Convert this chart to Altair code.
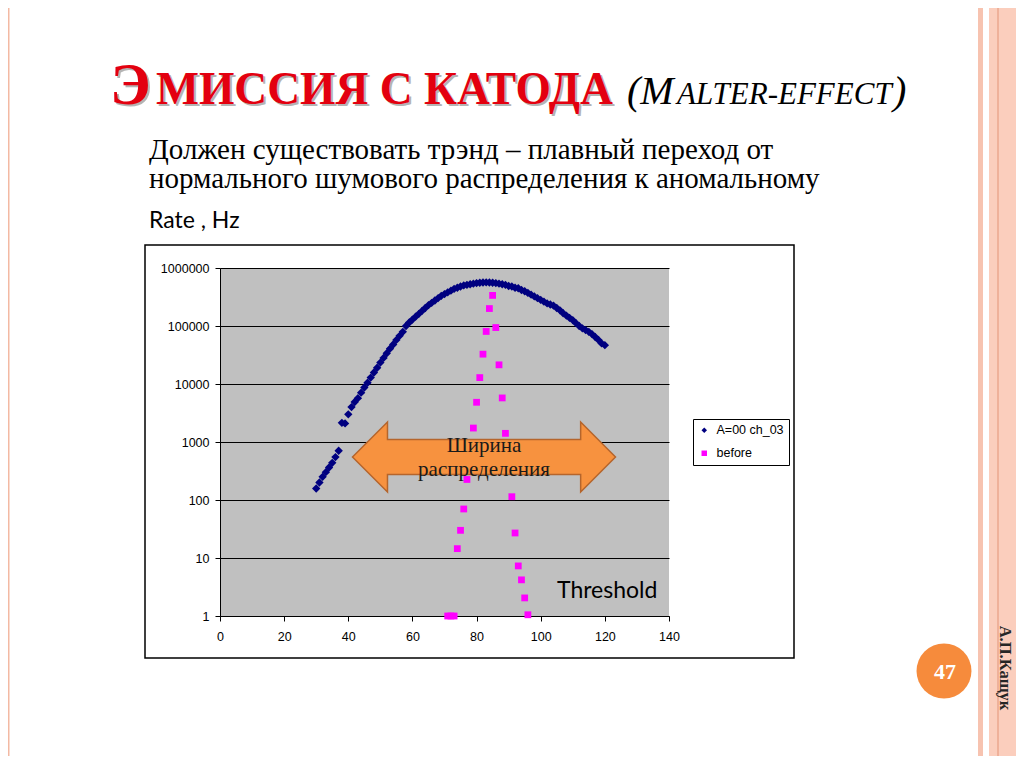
import altair as alt
import pandas as pd

# ---------------- data ----------------
SERIES_A = "A=00 ch_03"
SERIES_B = "before"

a_x = [30, 31, 32, 33, 34, 35, 36, 37, 38, 39,
       40, 41, 42, 43, 44, 45, 46, 47, 48, 49,
       50, 51, 52, 53, 54, 55, 56, 57, 58, 59,
       60, 61, 62, 63, 64, 65, 66, 67, 68, 69,
       70, 71, 72, 73, 74, 75, 76, 77, 78, 79,
       80, 81, 82, 83, 84, 85, 86, 87, 88, 89,
       90, 91, 92, 93, 94, 95, 96, 97, 98, 99,
       100, 101, 102, 103, 104, 105, 106, 107, 108, 109,
       110, 111, 112, 113, 114, 115, 116, 117, 118, 119,
       120]
a_rate = [158, 200, 251, 302, 363, 437, 550, 708, 2140, 2090,
          3000, 4000, 4900, 5700, 7100, 8700, 10500, 12900, 15800, 19100,
          23400, 28200, 33900, 40700, 47900, 57500, 67600, 79400, 100000, 115000,
          129000, 145000, 162000, 182000, 204000, 229000, 251000, 275000, 302000, 331000,
          355000, 380000, 407000, 437000, 457000, 479000, 501000, 513000, 525000, 537000,
          550000, 556000, 562000, 565000, 562000, 556000, 550000, 537000, 525000, 513000,
          490000, 479000, 457000, 447000, 417000, 398000, 372000, 347000, 324000, 302000,
          282000, 263000, 245000, 235000, 224000, 204000, 186000, 166000, 151000, 138000,
          126000, 112000, 100000, 91200, 85100, 79400, 72400, 64600, 57500, 50100,
          46800]

b_x = [71, 72, 73, 74, 75, 76, 77, 79, 80, 81, 82, 83,
       84, 85, 86, 87, 88, 89, 91, 92, 93, 94, 95, 96]
b_rate = [1, 1, 1, 14.5, 30, 70, 226, 1740, 4840, 12900, 32700, 80500,
          200000, 337000, 94000, 21400, 5750, 1410, 114, 27, 7.3, 4.2, 2.05, 1.05]

x_ticks = [0, 20, 40, 60, 80, 100, 120, 140]
y_ticks = [1, 10, 100, 1000, 10000, 100000, 1000000]

TITLE_BIG = "Э"
TITLE_SMALL = "МИССИЯ С КАТОДА"
SUB_BIG_1 = "(M"
SUB_SMALL = "ALTER-EFFECT"
SUB_BIG_2 = ")"
LINE_1 = "Должен существовать трэнд – плавный переход от"
LINE_2 = "нормального шумового распределения к аномальному"
RATE_LABEL = "Rate , Hz"
ARROW_1 = "Ширина"
ARROW_2 = "распределения"
THRESHOLD = "Threshold"
PAGE_NO = "47"
AUTHOR = "А.П.Кащук"

# ---------------- layout helpers ----------------
OX, OY = 220, 268          # page position of the plot origin
W, H = 449, 348            # plot area size

def px(x):
    return x - OX

def py(y):
    return y - OY

one = pd.DataFrame({"k": [0]})

def text_layer(txt, x, y, **kw):
    kw.setdefault("baseline", "alphabetic")
    return alt.Chart(pd.DataFrame({"t": [txt]})).mark_text(**kw).encode(
        text="t:N", x=alt.value(px(x)), y=alt.value(py(y)))

def rect_layer(x1, x2, y1, y2, **kw):
    return alt.Chart(one).mark_rect(**kw).encode(
        x=alt.value(px(x1)), x2=alt.value(px(x2)),
        y=alt.value(py(y1)), y2=alt.value(py(y2)))

RED = "#E3000F"
SERIF = "Liberation Serif"
SANS = "Liberation Sans"

# ---------------- data layers ----------------
dfA = pd.DataFrame({"x": a_x, "rate": a_rate, "series": SERIES_A})
dfB = pd.DataFrame({"x": b_x, "rate": b_rate, "series": SERIES_B})

dom = [SERIES_A, SERIES_B]
color_scale = alt.Scale(domain=dom, range=["#000080", "#FF00FF"])
shape_scale = alt.Scale(domain=dom, range=["diamond", "square"])

x_enc = alt.X("x:Q", scale=alt.Scale(domain=[0, 140], nice=False, zero=False),
              axis=alt.Axis(values=x_ticks, grid=False, title=None, labelFlush=False,
                            labelFont=SANS, labelFontSize=12.5, labelColor="black",
                            tickColor="black", domainColor="black", tickSize=5,
                            labelPadding=9))
y_enc = alt.Y("rate:Q", scale=alt.Scale(type="log", domain=[1, 1000000], nice=False),
              axis=alt.Axis(values=y_ticks, format="d", grid=True, gridColor="black",
                            gridOpacity=1, gridWidth=1, title=None, labelFlush=False,
                            labelFont=SANS, labelFontSize=12.5, labelColor="black",
                            tickColor="black", domainColor="black", tickSize=5,
                            labelPadding=6))
legend = alt.Legend(title=None, orient="none", legendX=473, legendY=151,
                    fillColor="white", strokeColor="black", padding=5,
                    rowPadding=10, labelOffset=6, symbolSize=30,
                    symbolStrokeWidth=0, labelFont=SANS, labelFontSize=12.5,
                    labelColor="black")

ptsA = alt.Chart(dfA).mark_point(filled=True, size=70, opacity=1).encode(
    x=x_enc, y=y_enc,
    color=alt.Color("series:N", scale=color_scale, legend=legend),
    shape=alt.Shape("series:N", scale=shape_scale, legend=legend))
ptsB = alt.Chart(dfB).mark_point(filled=True, size=46, opacity=1).encode(
    x=x_enc, y=y_enc,
    color=alt.Color("series:N", scale=color_scale, legend=legend),
    shape=alt.Shape("series:N", scale=shape_scale, legend=legend))

# ---------------- decorations ----------------
ARROW_PATH = ("M -1 0 L -0.734 -0.266 L -0.734 -0.133 L 0.735 -0.133 L 0.735 -0.266 "
              "L 1 0 L 0.735 0.266 L 0.735 0.133 L -0.734 0.133 L -0.734 0.266 Z")
arrow = alt.Chart(one).mark_point(shape=ARROW_PATH, size=263 ** 2, filled=True,
                                  color="#F7923F", stroke="#B5652C", strokeWidth=1.5,
                                  opacity=1).encode(x=alt.value(px(484)), y=alt.value(py(457)))

box = rect_layer(145, 794, 245, 658, filled=False, color="black", strokeWidth=1.5)

strips = [
    rect_layer(978, 983, 0, 768, color="#F7C3B0"),
    rect_layer(989, 1030, 0, 768, color="#FBCEBD"),
    rect_layer(997.5, 998.5, 0, 768, color="#E39478"),
    rect_layer(8, 9.5, 0, 768, color="#F3B9A3"),
]

shadow = "#6b6b6b"
texts = [
    text_layer(TITLE_BIG, 112, 106, font=SERIF, fontSize=60, fontWeight="bold",
               color=shadow, opacity=0.5, align="left"),
    text_layer(TITLE_SMALL, 158, 106, font=SERIF, fontSize=45.5, fontWeight="bold",
               color=shadow, opacity=0.5, align="left"),
    text_layer(TITLE_BIG, 110, 104, font=SERIF, fontSize=60, fontWeight="bold",
               color=RED, align="left"),
    text_layer(TITLE_SMALL, 156, 104, font=SERIF, fontSize=45.5, fontWeight="bold",
               color=RED, align="left"),
    text_layer(SUB_BIG_1, 627, 104, font=SERIF, fontSize=40, fontStyle="italic",
               color="black", align="left"),
    text_layer(SUB_SMALL, 677, 104, font=SERIF, fontSize=31, fontStyle="italic",
               color="black", align="left"),
    text_layer(SUB_BIG_2, 893, 104, font=SERIF, fontSize=40, fontStyle="italic",
               color="black", align="left"),
    text_layer(LINE_1, 149, 159, font=SERIF, fontSize=29, color="black", align="left"),
    text_layer(LINE_2, 149, 188, font=SERIF, fontSize=29, color="black", align="left"),
    text_layer(RATE_LABEL, 149, 228, font="Lato", fontSize=23, color="black", align="left"),
    text_layer(ARROW_1, 484, 452, font=SERIF, fontSize=21, color="#1a1a1a", align="center"),
    text_layer(ARROW_2, 484, 476, font=SERIF, fontSize=21, color="#1a1a1a", align="center"),
    text_layer(THRESHOLD, 557, 598, font="Lato", fontSize=23, color="black", align="left"),
]

circle = alt.Chart(one).mark_point(shape="circle", size=3019, filled=True,
                                   color="#F68B3C", opacity=1).encode(
    x=alt.value(px(944)), y=alt.value(py(671)))
page_no = text_layer(PAGE_NO, 945, 679, font=SERIF, fontSize=22, fontWeight="bold",
                     color="white", align="center")
author = text_layer(AUTHOR, 1005, 668, font=SERIF, fontSize=16.5, fontWeight="bold",
                    color="#262626", align="center", baseline="middle", angle=90)

chart = alt.layer(
    *strips, box, ptsA, ptsB, arrow, *texts, circle, page_no, author
).properties(
    width=W, height=H,
    autosize=alt.AutoSizeParams(type="none"),
    padding={"left": OX - 8, "top": OY - 8, "right": 1016 - OX - W, "bottom": 748 - (OY - 8) - H},
    background="white",
).configure_view(stroke=None, fill="#C0C0C0")

chart.save("out.html", embed_options={"renderer": "svg", "actions": False})
